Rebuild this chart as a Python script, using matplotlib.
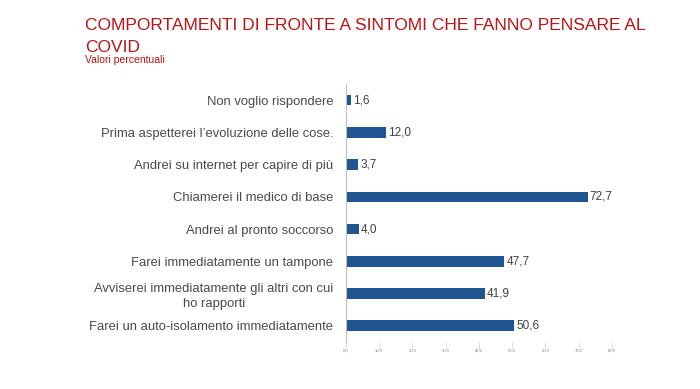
import matplotlib.pyplot as plt

plt.rcParams['font.family'] = ['Liberation Sans', 'DejaVu Sans']

categories = [
    'Non voglio rispondere',
    'Prima aspetterei l\u2019evoluzione delle cose.',
    'Andrei su internet per capire di pi\u00f9',
    'Chiamerei il medico di base',
    'Andrei al pronto soccorso',
    'Farei immediatamente un tampone',
    'Avviserei immediatamente gli altri con cui\nho rapporti',
    'Farei un auto-isolamento immediatamente',
]
values = [1.6, 12.0, 3.7, 72.7, 4.0, 47.7, 41.9, 50.6]
xticks = [0, 10, 20, 30, 40, 50, 60, 70, 80]

fig = plt.figure(figsize=(7, 3.89), dpi=100)
ax = fig.add_axes([0.494, 0.121, 0.38, 0.663])

pos = list(range(len(categories)))
ax.barh(pos, values, height=0.33, color='#1F5591')
for p, v in zip(pos, values):
    ax.text(v + 0.6, p, f'{v:.1f}'.replace('.', ','), va='center', ha='left',
            fontsize=8.5, color='#404040')

ax.set_ylim(len(categories) - 0.5, -0.5)
ax.set_xlim(0, 80)
ax.set_yticks(pos)
ax.set_yticklabels(categories, fontsize=9.4, color='#4A4A4A', ha='right',
                   multialignment='center', linespacing=1.35)
ax.tick_params(axis='y', length=0, pad=9)
ax.set_xticks(xticks)
ax.set_xticklabels([f'{t:.1f}'.replace('.', ',') for t in xticks],
                   fontsize=3, color='#808080')
ax.tick_params(axis='x', length=5, color='#D9D9D9', width=0.6, pad=0)
for s in ['top', 'right', 'bottom']:
    ax.spines[s].set_visible(False)
ax.spines['left'].set_color('#BFBFBF')
ax.spines['left'].set_linewidth(0.8)

fig.text(0.121, 0.935, 'COMPORTAMENTI DI FRONTE A SINTOMI CHE FANNO PENSARE AL',
         fontsize=12.5, color='#B81414', va='center')
fig.text(0.121, 0.878, 'COVID', fontsize=12.5, color='#B81414', va='center')
fig.text(0.121, 0.845, 'Valori percentuali', fontsize=7.5, color='#B81414',
         va='center')

fig.savefig('out.png', dpi=100)
